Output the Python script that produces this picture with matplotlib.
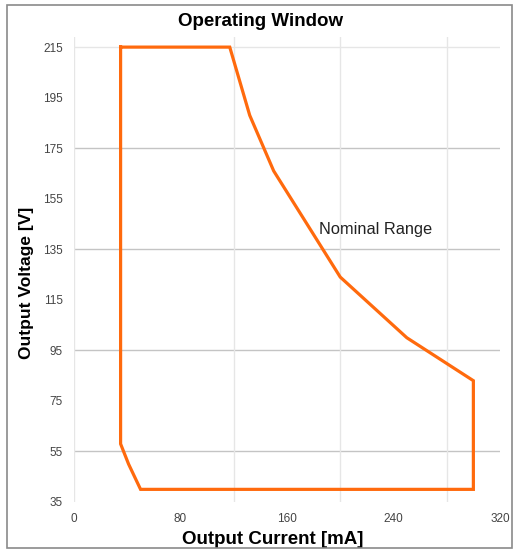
#!/usr/bin/env python3

import matplotlib
matplotlib.use('Agg')
import matplotlib.pyplot as plt
from matplotlib.patches import Rectangle

plt.rcParams['font.family'] = ['Liberation Sans', 'DejaVu Sans']

### Boundary of the operating window (output current in mA, output voltage in V)
current = [35, 117, 132, 150, 200, 250, 300, 300, 50, 41, 35, 35]
voltage = [215, 215, 188, 166, 124, 100, 83, 40, 40, 50, 58, 215]

x_ticks = [0, 80, 160, 240, 320]
y_ticks = [35, 55, 75, 95, 115, 135, 155, 175, 195, 215]
y_grid_major = [55, 95, 135, 175]
y_grid_light = [215]
x_grid = [0, 120, 200, 280]

fig = plt.figure(figsize=(5.19, 5.54), dpi=100)
ax = fig.add_axes([74 / 519, 1 - 502 / 554, 426 / 519, 465 / 554])

### Gridlines
for y in y_grid_major:
    ax.axhline(y, color='#c4c4c4', lw=1.0, zorder=1)
for y in y_grid_light:
    ax.axhline(y, color='#e6e6e6', lw=1.0, zorder=1)
for x in x_grid:
    ax.axvline(x, color='#e6e6e6', lw=1.0, zorder=1)

### Boundary line
ax.plot(current, voltage, color='#ff6a0d', lw=2.3, solid_joinstyle='miter', zorder=3)

ax.text(184, 143, 'Nominal Range', fontsize=11.8, color='#222222', va='center')

ax.set_xlim(0, 320)
ax.set_ylim(35, 219)
ax.set_xticks(x_ticks)
ax.set_yticks(y_ticks)
ax.set_yticks(y_grid_major + y_grid_light, minor=True)
ax.tick_params(axis='both', which='major', length=0, labelsize=8.5, labelcolor='#444444')
ax.tick_params(axis='x', which='major', pad=8)
ax.tick_params(axis='y', which='major', pad=8)
ax.tick_params(axis='y', which='minor', length=7, color='#c4c4c4', width=1)
ax.tick_params(axis='x', which='minor', length=0)

for spine in ax.spines.values():
    spine.set_visible(False)

ax.set_xlabel('Output Current [mA]', fontsize=13.5, fontweight='bold', va='center')
ax.set_ylabel('Output Voltage [V]', fontsize=12.5, fontweight='bold', va='center')
ax.xaxis.set_label_coords((273 - 74) / 426, (502 - 540) / 465)
ax.yaxis.set_label_coords((27 - 74) / 426, (502 - 283) / 465)
fig.text(261 / 519, 1 - 21 / 554, 'Operating Window', fontsize=13.5, fontweight='bold',
         ha='center', va='center')

### Border around the whole picture
fig.patches.append(Rectangle((7 / 519, 1 - 548 / 554), 505 / 519, 543 / 554,
                             transform=fig.transFigure, fill=False,
                             edgecolor='#8a8a8a', lw=1.2))

plt.savefig('out.png', dpi=100)
